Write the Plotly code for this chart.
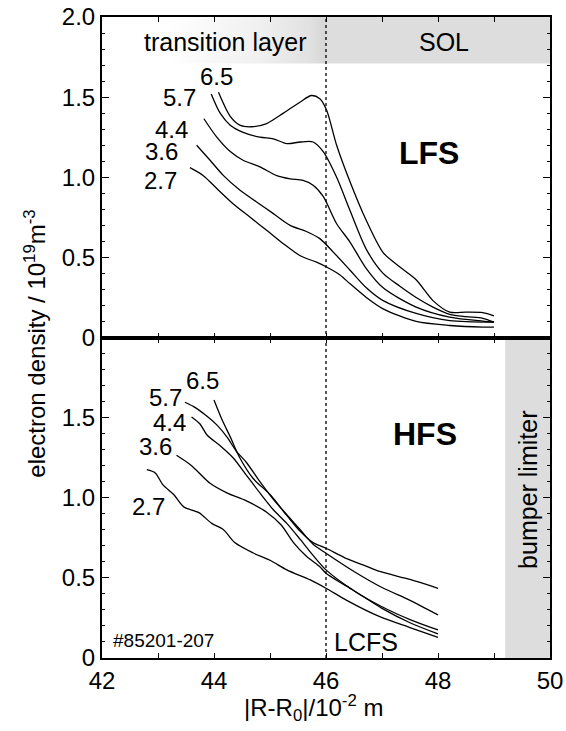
import plotly.graph_objects as go

# ---------------- data ----------------
labels = ["6.5", "5.7", "4.4", "3.6", "2.7"]

# LFS (top panel)
lfs_x_65 = [44.08, 44.29, 44.46, 44.67, 44.94, 45.24, 45.54, 45.74, 45.89, 46.01, 46.19, 46.42, 46.72, 47.02, 47.32, 47.61, 47.91, 48.21, 48.5, 48.8, 49.0]
lfs_y_65 = [1.53, 1.38, 1.325, 1.315, 1.335, 1.40, 1.47, 1.51, 1.49, 1.42, 1.20, 0.98, 0.73, 0.53, 0.44, 0.36, 0.23, 0.158, 0.158, 0.155, 0.135]
lfs_x_57 = [43.95, 44.11, 44.29, 44.52, 44.82, 45.06, 45.30, 45.54, 45.77, 45.95, 46.19, 46.42, 46.72, 47.02, 47.32, 47.61, 47.91, 48.21, 48.5, 48.8, 49.0]
lfs_y_57 = [1.52, 1.40, 1.325, 1.28, 1.25, 1.24, 1.21, 1.22, 1.22, 1.16, 1.0, 0.80, 0.55, 0.40, 0.32, 0.25, 0.19, 0.145, 0.13, 0.12, 0.096]
lfs_x_44 = [43.82, 44.05, 44.29, 44.52, 44.82, 45.12, 45.36, 45.59, 45.77, 45.95, 46.19, 46.42, 46.72, 47.02, 47.61, 48.21, 48.8, 49.0]
lfs_y_44 = [1.365, 1.25, 1.16, 1.106, 1.065, 1.01, 0.99, 0.98, 0.95, 0.88, 0.71, 0.60, 0.43, 0.31, 0.19, 0.127, 0.102, 0.096]
lfs_x_36 = [43.69, 43.93, 44.17, 44.46, 44.76, 45.06, 45.36, 45.66, 45.89, 46.13, 46.43, 46.72, 47.02, 47.61, 48.21, 49.0]
lfs_y_36 = [1.20, 1.106, 1.01, 0.92, 0.846, 0.773, 0.70, 0.66, 0.617, 0.533, 0.42, 0.31, 0.23, 0.15, 0.105, 0.096]
lfs_x_27 = [43.57, 43.81, 44.05, 44.34, 44.64, 44.94, 45.24, 45.54, 45.83, 46.01, 46.25, 46.43, 46.72, 47.02, 47.61, 48.21, 48.8, 49.0]
lfs_y_27 = [1.06, 1.01, 0.93, 0.835, 0.752, 0.669, 0.585, 0.51, 0.47, 0.44, 0.39, 0.335, 0.25, 0.179, 0.10, 0.075, 0.065, 0.065]

# HFS (bottom panel)
hfs_x_65 = [44.0, 44.14, 44.29, 44.46, 44.70, 45.0, 45.3, 45.54, 45.77, 46.0, 46.37, 46.67, 46.96, 47.5, 48.0]
hfs_y_65 = [1.61, 1.49, 1.38, 1.25, 1.12, 1.02, 0.89, 0.79, 0.72, 0.685, 0.62, 0.58, 0.54, 0.49, 0.435]
hfs_x_57 = [43.48, 43.63, 43.87, 44.05, 44.23, 44.40, 44.58, 44.82, 45.06, 45.30, 45.54, 45.77, 46.0, 46.5, 47.0, 47.5, 48.0]
hfs_y_57 = [1.596, 1.57, 1.51, 1.455, 1.38, 1.29, 1.22, 1.10, 0.99, 0.894, 0.80, 0.71, 0.654, 0.54, 0.44, 0.36, 0.269]
hfs_x_44 = [43.60, 43.75, 43.88, 44.11, 44.34, 44.58, 44.82, 45.06, 45.30, 45.54, 45.77, 46.0, 46.5, 47.0, 47.5, 48.0]
hfs_y_44 = [1.504, 1.46, 1.39, 1.325, 1.25, 1.14, 1.03, 0.925, 0.84, 0.74, 0.64, 0.55, 0.42, 0.32, 0.24, 0.175]
hfs_x_36 = [43.33, 43.6, 43.93, 44.23, 44.58, 44.94, 45.2, 45.42, 45.65, 45.89, 46.0, 46.5, 47.0, 47.5, 48.0]
hfs_y_36 = [1.265, 1.2, 1.09, 1.03, 0.98, 0.91, 0.83, 0.72, 0.635, 0.57, 0.529, 0.42, 0.31, 0.22, 0.15]
hfs_x_27 = [42.80, 42.95, 43.09, 43.28, 43.46, 43.73, 43.96, 44.17, 44.37, 44.70, 45.0, 45.3, 45.72, 46.0, 46.37, 46.96, 47.5, 48.0]
hfs_y_27 = [1.175, 1.155, 1.08, 1.02, 0.943, 0.907, 0.84, 0.80, 0.72, 0.655, 0.61, 0.55, 0.487, 0.435, 0.36, 0.258, 0.19, 0.129]

# label positions (x, y) for each curve label
lfs_label_x = [44.05, 43.39, 43.24, 43.07, 43.04]
lfs_label_y = [1.63, 1.50, 1.30, 1.16, 0.98]
hfs_label_x = [43.80, 43.13, 43.21, 42.95, 42.83]
hfs_label_y = [1.73, 1.625, 1.467, 1.317, 0.946]

x_tick_vals = [42, 43, 44, 45, 46, 47, 48, 49, 50]
x_tick_text = ["42", " ", "44", " ", "46", " ", "48", " ", "50"]
y_top_vals = [0, 0.5, 1.0, 1.5, 2.0]
y_top_text = ["0", "0.5", "1.0", "1.5", "2.0"]
y_bot_vals = [0, 0.5, 1.0, 1.5]
y_bot_text = ["0", "0.5", "1.0", "1.5"]

FONT = "Liberation Sans, Arial, Helvetica, sans-serif"

fig = go.Figure()

# gradient band "transition layer"
fig.add_trace(go.Scatter(
    x=[42, 46, 46, 42, 42], y=[1.71, 1.71, 2.0, 2.0, 1.71],
    xaxis="x2", yaxis="y2", mode="lines", line=dict(width=0),
    fill="toself",
    fillgradient=dict(type="horizontal",
                      colorscale=[[0, "#ffffff"], [0.3, "#ffffff"], [0.7, "#f0f0f0"],
                                  [0.92, "#e2e2e2"], [1, "#d6d6d6"]]),
    hoverinfo="skip", showlegend=False))

lfs = [(lfs_x_65, lfs_y_65), (lfs_x_57, lfs_y_57), (lfs_x_44, lfs_y_44),
       (lfs_x_36, lfs_y_36), (lfs_x_27, lfs_y_27)]
hfs = [(hfs_x_65, hfs_y_65), (hfs_x_57, hfs_y_57), (hfs_x_44, hfs_y_44),
       (hfs_x_36, hfs_y_36), (hfs_x_27, hfs_y_27)]

for (xs, ys), lab in zip(lfs, labels):
    fig.add_trace(go.Scatter(x=xs, y=ys, xaxis="x2", yaxis="y2", mode="lines",
                             line=dict(color="black", width=1.3, shape="spline", smoothing=0.8),
                             name="LFS " + lab, showlegend=False))
for (xs, ys), lab in zip(hfs, labels):
    fig.add_trace(go.Scatter(x=xs, y=ys, xaxis="x", yaxis="y", mode="lines",
                             line=dict(color="black", width=1.3, shape="spline", smoothing=0.8),
                             name="HFS " + lab, showlegend=False))

axis_common = dict(showline=True, linecolor="black", linewidth=2, mirror="allticks",
                   ticks="inside", tickcolor="black", showgrid=False, zeroline=False,
                   automargin=False,
                   tickfont=dict(family=FONT, size=24, color="black"))

fig.update_layout(
    width=566, height=731, autosize=False, showlegend=False,
    margin=dict(l=102, r=16, t=17, b=73, pad=0, autoexpand=False),
    plot_bgcolor="white", paper_bgcolor="white",
    font=dict(family=FONT, color="black"),
    xaxis=dict(domain=[0, 1], anchor="y", range=[42, 50], tickmode="array",
               tickvals=x_tick_vals, ticktext=x_tick_text, ticklen=5, tickwidth=1,
               **axis_common),
    xaxis2=dict(domain=[0, 1], anchor="y2", range=[42, 50], matches="x", tickmode="array",
                tickvals=x_tick_vals, ticktext=x_tick_text, ticklen=5, tickwidth=1,
                showticklabels=False, **axis_common),
    yaxis=dict(domain=[0, 0.5], anchor="x", range=[0, 2.0], tickmode="array",
               tickvals=y_bot_vals, ticktext=y_bot_text, ticklen=7, tickwidth=1,
               minor=dict(dtick=0.1, tick0=0, ticks="inside", ticklen=3, tickcolor="black"),
               **axis_common),
    yaxis2=dict(domain=[0.5, 1], anchor="x2", range=[0, 2.0], tickmode="array",
                tickvals=y_top_vals, ticktext=y_top_text, ticklen=7, tickwidth=1,
                minor=dict(dtick=0.1, tick0=0, ticks="inside", ticklen=3, tickcolor="black"),
                **axis_common),
)

shapes = [
    # SOL band
    dict(type="rect", xref="x2", yref="y2", x0=46, x1=50, y0=1.71, y1=2.0,
         fillcolor="#dddddd", line=dict(width=0), layer="below"),
    # bumper limiter band
    dict(type="rect", xref="x", yref="y", x0=49.2, x1=50, y0=0, y1=2.0,
         fillcolor="#dddddd", line=dict(width=0), layer="below"),
    # LCFS dotted line
    dict(type="line", xref="x", yref="paper", x0=46, x1=46, y0=0, y1=1,
         line=dict(color="black", width=1.3, dash="dot")),
]
fig.update_layout(shapes=shapes)

ann = []
def txt(x, y, s, xref="x2", yref="y2", size=24, bold=False, angle=0, xanchor="center", yanchor="middle"):
    ann.append(dict(x=x, y=y, xref=xref, yref=yref, text=("<b>%s</b>" % s) if bold else s,
                    showarrow=False, textangle=angle, xanchor=xanchor, yanchor=yanchor,
                    font=dict(family=FONT, size=size, color="black")))

for lx, ly, lab in zip(lfs_label_x, lfs_label_y, labels):
    txt(lx, ly, lab)
for lx, ly, lab in zip(hfs_label_x, hfs_label_y, labels):
    txt(lx, ly, lab, xref="x", yref="y")

txt(44.2, 1.845, "transition layer", size=25)
txt(48.1, 1.845, "SOL", size=25)
txt(47.84, 1.15, "LFS", size=32, bold=True)
txt(47.76, 1.40, "HFS", xref="x", yref="y", size=32, bold=True)
txt(49.61, 1.05, "bumper limiter", xref="x", yref="y", angle=-90, size=25)
txt(46.72, 0.10, "LCFS", xref="x", yref="y", size=25)
txt(43.10, 0.11, "#85201-207", xref="x", yref="y", size=19)

# axis titles
txt(-0.15, 0.49, "electron density / 10<sup>19</sup>m<sup>-3</sup>", xref="paper", yref="paper", angle=-90)
txt(0.473, -0.078, "|R-R<sub>0</sub>|/10<sup>-2</sup> m", xref="paper", yref="paper")

fig.update_layout(annotations=ann)

fig.write_html("out.html")
